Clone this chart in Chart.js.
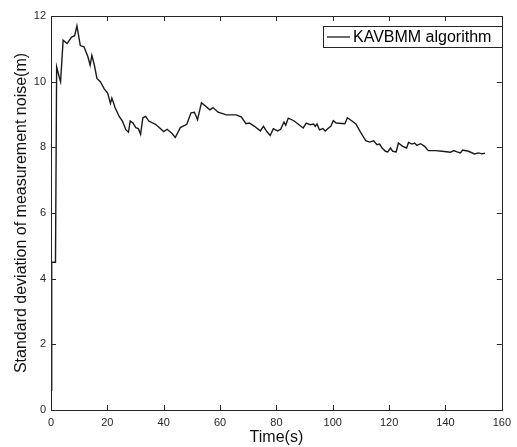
<!DOCTYPE html>
<html>
<head>
<meta charset="utf-8">
<script src="https://cdn.jsdelivr.net/npm/chart.js@4"></script>
<style>
  body { margin: 0; background: #fff; }
  canvas { display: block; }
</style>
</head>
<body>
<canvas id="chartNoise" width="517" height="447"></canvas>
<script>
// === KAVBMM: estimated std of measurement noise over time ===
const seriesName = 'KAVBMM algorithm';
const timeSec = [
  0, 0.25, 1.6, 2.0, 2.9, 3.4, 4.3, 5.7, 7.3, 8.4, 9.2, 10.4, 11.7, 13.1, 13.9, 14.5,
  15.4, 16.3, 17.5, 18.9, 20.1, 21.1, 21.6, 22.8, 24.2, 25.4, 26.6, 27.5, 28.1, 29.1,
  30.1, 31.0, 31.8, 32.6, 33.6, 34.7, 37.1, 40.0, 41.2, 42.9, 44.1, 45.9, 48.2, 49.7,
  50.9, 52.0, 53.4, 56.4, 57.5, 59.3, 62.2, 65.7, 67.5, 69.2, 70.4, 72.2, 74.3, 75.4,
  76.6, 77.8, 78.9, 80.4, 81.5, 82.7, 83.3, 84.2, 86.2, 89.5, 90.6, 92.0, 93.2, 93.8,
  94.4, 95.3, 96.5, 97.3, 98.5, 99.3, 100.2, 101.2, 104.3, 105.2, 106.7, 108.2, 109.8,
  111.7, 113.1, 114.5, 115.7, 116.6, 117.5, 118.7, 119.5, 120.5, 121.3, 122.5, 123.3,
  124.8, 126.2, 126.9, 128.1, 129.1, 129.8, 131.2, 132.6, 133.9, 136.5, 138.8, 141.8,
  142.9, 144.1, 145.3, 146.1, 148.2, 150.3, 151.7, 152.9, 154.0
];
const noiseStd = [
  0.6, 4.5, 4.5, 10.45, 10.15, 10.0, 11.26, 11.16, 11.36, 11.4, 11.7, 11.1, 11.06, 10.76, 10.5, 10.8,
  10.5, 10.1, 10.0, 9.78, 9.65, 9.34, 9.5, 9.2, 8.94, 8.79, 8.53, 8.46, 8.8, 8.74,
  8.6, 8.57, 8.4, 8.9, 8.94, 8.8, 8.7, 8.48, 8.55, 8.43, 8.3, 8.6, 8.7, 9.05,
  9.07, 8.84, 9.36, 9.14, 9.21, 9.07, 8.99, 8.99, 8.93, 8.72, 8.74, 8.64, 8.5, 8.64,
  8.48, 8.36, 8.57, 8.5, 8.55, 8.77, 8.67, 8.89, 8.81, 8.59, 8.74, 8.69, 8.71, 8.64,
  8.71, 8.53, 8.57, 8.5, 8.59, 8.64, 8.81, 8.74, 8.72, 8.9, 8.81, 8.71, 8.47,
  8.2, 8.16, 8.2, 8.08, 8.1, 7.98, 7.88, 7.86, 7.98, 7.88, 7.86, 8.13,
  8.03, 7.98, 8.15, 8.1, 8.13, 8.06, 8.11, 8.03, 7.9, 7.9, 7.88, 7.85,
  7.9, 7.86, 7.83, 7.92, 7.88, 7.8, 7.83, 7.8, 7.82
];
const xTicks = [0, 20, 40, 60, 80, 100, 120, 140, 160];
const yTicks = [0, 2, 4, 6, 8, 10, 12];

const axisColor = '#262626';
const fontFamily = "Arial, 'Liberation Sans', Helvetica, sans-serif";

// matlab-like box with inward ticks plus the legend in the top right corner
const boxPlugin = {
  id: 'matlabBox',
  afterDraw(chart) {
    const { ctx, chartArea: a, scales } = chart;
    const len = 5;
    ctx.save();
    ctx.strokeStyle = axisColor;
    ctx.lineWidth = 1;
    ctx.strokeRect(Math.round(a.left) + 0.5, Math.round(a.top) + 0.5,
      Math.round(a.right - a.left), Math.round(a.bottom - a.top));
    ctx.beginPath();
    xTicks.forEach(v => {
      const px = Math.round(scales.x.getPixelForValue(v)) + 0.5;
      ctx.moveTo(px, a.bottom); ctx.lineTo(px, a.bottom - len);
      ctx.moveTo(px, a.top); ctx.lineTo(px, a.top + len);
    });
    yTicks.forEach(v => {
      const py = Math.round(scales.y.getPixelForValue(v)) + 0.5;
      ctx.moveTo(a.left, py); ctx.lineTo(a.left + len, py);
      ctx.moveTo(a.right, py); ctx.lineTo(a.right - len, py);
    });
    ctx.stroke();

    // legend
    const lx = 323.5, ly = 26.5, lw = 179, lh = 21;
    ctx.fillStyle = '#fff';
    ctx.fillRect(lx, ly, lw, lh);
    ctx.strokeRect(lx, ly, lw, lh);
    ctx.strokeStyle = '#1a1a1a';
    ctx.lineWidth = 1.3;
    ctx.beginPath();
    ctx.moveTo(327, ly + lh / 2); ctx.lineTo(350, ly + lh / 2);
    ctx.stroke();
    ctx.fillStyle = '#000';
    ctx.font = '16px ' + fontFamily;
    ctx.textBaseline = 'middle';
    ctx.fillText(seriesName, 353, ly + lh / 2 + 1);
    ctx.restore();
  }
};

const noiseCtx = document.getElementById('chartNoise');
new Chart(noiseCtx, {
  type: 'line',
  data: {
    datasets: [{
      label: seriesName,
      data: timeSec.map((t, i) => ({ x: t, y: noiseStd[i] })),
      borderColor: '#1a1a1a',
      borderWidth: 1.4,
      pointRadius: 0,
      tension: 0,
      fill: false
    }]
  },
  options: {
    responsive: false,
    animation: false,
    layout: { padding: { top: 16, right: 10, left: 0, bottom: 0 } },
    scales: {
      x: {
        type: 'linear',
        min: 0,
        max: 160,
        afterFit(scale) { scale.height = 37; },
        afterBuildTicks(scale) { scale.ticks = xTicks.map(v => ({ value: v })); },
        grid: { display: false, drawTicks: false },
        border: { display: false },
        ticks: { color: axisColor, padding: 6, font: { family: fontFamily, size: 11 }, maxRotation: 0 },
        title: {
          display: true,
          text: 'Time(s)',
          color: '#111',
          padding: { top: 0, bottom: 0 },
          font: { family: fontFamily, size: 16 }
        }
      },
      y: {
        min: 0,
        max: 12,
        afterFit(scale) { scale.width = 51; },
        afterBuildTicks(scale) { scale.ticks = yTicks.map(v => ({ value: v })); },
        grid: { display: false, drawTicks: false },
        border: { display: false },
        ticks: { color: axisColor, padding: 5, font: { family: fontFamily, size: 11 } },
        title: {
          display: true,
          text: 'Standard deviation of measurement noise(m)',
          color: '#111',
          padding: { top: 12, bottom: 0 },
          font: { family: fontFamily, size: 16 }
        }
      }
    },
    plugins: {
      legend: { display: false },
      tooltip: { enabled: false }
    }
  },
  plugins: [boxPlugin]
});
</script>
</body>
</html>
